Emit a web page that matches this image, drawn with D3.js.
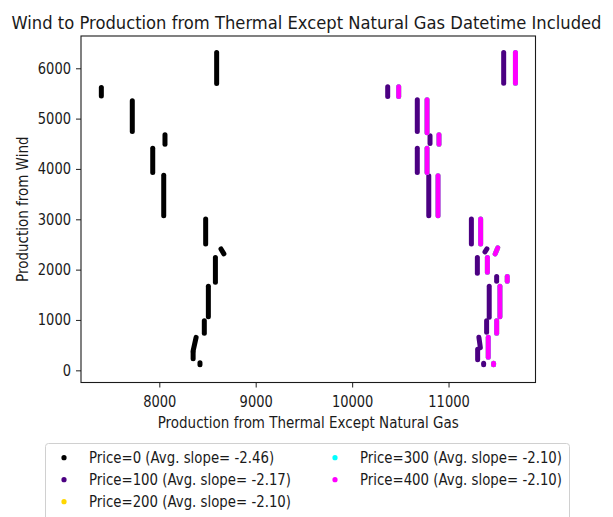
<!DOCTYPE html>
<html>
<head>
<meta charset="utf-8">
<script src="https://cdn.jsdelivr.net/npm/d3@7"></script>
<style>
  html, body { margin: 0; padding: 0; background: #fff; }
  svg { display: block; }
</style>
</head>
<body>
<div id="chart"></div>
<script>
// Wind vs thermal production scatter - each run of points drawn as a short vertical stroke

var seriesNames = ['Price=0', 'Price=100', 'Price=200', 'Price=300', 'Price=400'];
var seriesSlopes = ['-2.46', '-2.17', '-2.10', '-2.10', '-2.10'];
var seriesColors = ['#000000', '#4b0082', '#ffd700', '#00ffff', '#ff00ff'];

var xTicks = [8000, 9000, 10000, 11000];
var yTicks = [0, 1000, 2000, 3000, 4000, 5000, 6000];

// runs of points: [thermal start, wind start, thermal end, wind end]
var price0Runs = [
    [7399, 5617, 7399, 5448],
    [7720, 5354, 7720, 4745],
    [8595, 6313, 8595, 5698],
    [8059, 4680, 8059, 4493],
    [7932, 4413, 7932, 3931],
    [8046, 3877, 8046, 3071],
    [8481, 3004, 8481, 2507],
    [8640, 2412, 8670, 2313],
    [8582, 2243, 8582, 1747],
    [8509, 1668, 8509, 1066],
    [8467, 987, 8467, 735],
    [8382, 655, 8351, 387],
    [8351, 357, 8351, 228],
    [8422, 149, 8422, 109]
];

var price100Runs = [
    [11572, 6313, 11572, 5704],
    [10369, 5632, 10369, 5440],
    [10676, 5374, 10676, 4745],
    [10808, 4660, 10808, 4507],
    [10676, 4413, 10676, 3931],
    [10795, 3865, 10795, 3071],
    [11237, 3004, 11237, 2507],
    [11398, 2412, 11378, 2353],
    [11299, 2243, 11299, 1926],
    [11499, 1866, 11499, 1767],
    [11422, 1668, 11422, 1052],
    [11395, 987, 11395, 754],
    [11315, 655, 11330, 450],
    [11302, 420, 11302, 209],
    [11364, 139, 11364, 109]
];

var price400Runs = [
    [11694, 6313, 11694, 5704],
    [10483, 5632, 10483, 5440],
    [10777, 5374, 10777, 4720],
    [10901, 4680, 10901, 4493],
    [10777, 4413, 10777, 3931],
    [10891, 3865, 10891, 3071],
    [11333, 3004, 11333, 2507],
    [11510, 2432, 11484, 2313],
    [11403, 2243, 11403, 1946],
    [11609, 1866, 11609, 1767],
    [11533, 1668, 11533, 1066],
    [11499, 987, 11499, 735],
    [11412, 655, 11412, 258],
    [11467, 139, 11467, 109]
];

// price 200 and 300 sit exactly under price 400 (same slope), so they are hidden by it
var price200Runs = price400Runs;
var price300Runs = price400Runs;

var allRuns = [price0Runs, price100Runs, price200Runs, price300Runs, price400Runs];

var width = 613, height = 517;
var plot = { left: 81, right: 535.5, top: 36, bottom: 382.5 };
var font = 'DejaVu Sans, sans-serif';

var svg = d3.select('#chart')
    .append('svg')
    .attr('width', width)
    .attr('height', height);

var x = d3.scaleLinear().domain([7188, 11902]).range([plot.left, plot.right]);
var y = d3.scaleLinear().domain([-242, 6641]).range([plot.bottom, plot.top]);

// glyphs in the reference are narrower than DejaVu Sans, so squeeze them a bit
function addText(parent, tx, ty, str, size, squeeze, anchor, rotate) {
    var tr = 'translate(' + tx + ',' + ty + ')' + (rotate ? ' rotate(' + rotate + ')' : '') + ' scale(' + squeeze + ',1)';
    return parent.append('text')
        .attr('transform', tr)
        .attr('text-anchor', anchor || 'start')
        .style('font-family', font)
        .style('font-size', size + 'px')
        .attr('fill', '#1a1a1a')
        .text(str);
}

// runs of points
var runGroup = svg.append('g').attr('class', 'runs');
allRuns.forEach(function(runs, i) {
    runGroup.append('g')
        .selectAll('line')
        .data(runs)
        .enter()
        .append('line')
        .attr('x1', function(d) { return x(d[0]); })
        .attr('y1', function(d) { return y(d[1]); })
        .attr('x2', function(d) { return x(d[2]); })
        .attr('y2', function(d) { return y(d[3]); })
        .attr('stroke', seriesColors[i])
        .attr('stroke-width', 5)
        .attr('stroke-linecap', 'round');
});

// axes
var xAxis = svg.append('g')
    .attr('transform', 'translate(0,' + plot.bottom + ')')
    .call(d3.axisBottom(x).tickValues(xTicks).tickSize(5).tickPadding(8.5).tickFormat(d3.format('d')));
var yAxis = svg.append('g')
    .attr('transform', 'translate(' + plot.left + ',0)')
    .call(d3.axisLeft(y).tickValues(yTicks).tickSize(5).tickPadding(6.5).tickFormat(d3.format('d')));

[xAxis, yAxis].forEach(function(ax) {
    ax.select('.domain').remove();
    ax.selectAll('line').attr('stroke', '#333').attr('stroke-width', 1.1);
    ax.selectAll('text')
        .style('font-family', font)
        .style('font-size', '15px')
        .attr('fill', '#1a1a1a')
        .attr('transform', 'scale(0.87,1)');
});

// frame
svg.append('rect')
    .attr('x', plot.left)
    .attr('y', plot.top)
    .attr('width', plot.right - plot.left)
    .attr('height', plot.bottom - plot.top)
    .attr('fill', 'none')
    .attr('stroke', '#1a1a1a')
    .attr('stroke-width', 1.1);

// titles
addText(svg, 306.5, 28.5, 'Wind to Production from Thermal Except Natural Gas Datetime Included', 18, 0.91, 'middle');
addText(svg, (plot.left + plot.right) / 2, 427.5, 'Production from Thermal Except Natural Gas', 15.5, 0.87, 'middle');
addText(svg, 27.5, (plot.top + plot.bottom) / 2, 'Production from Wind', 15.5, 0.87, 'middle', -90);

// legend, filled column by column
var legend = svg.append('g').attr('class', 'legend');
legend.append('rect')
    .attr('x', 45.5)
    .attr('y', 443.5)
    .attr('width', 524)
    .attr('height', 90)
    .attr('rx', 3)
    .attr('fill', '#fff')
    .attr('stroke', '#d0d0d0')
    .attr('stroke-width', 1);

var colX = [64, 335];
var rowY = [457.7, 479.7, 501.7];
seriesNames.forEach(function(name, i) {
    var cx = colX[Math.floor(i / 3)];
    var cy = rowY[i % 3];
    legend.append('circle')
        .attr('cx', cx)
        .attr('cy', cy)
        .attr('r', 2.6)
        .attr('fill', seriesColors[i]);
    addText(legend, cx + 25, cy + 5.5, name + ' (Avg. slope= ' + seriesSlopes[i] + ')', 15.5, 0.86, 'start');
});
</script>
</body>
</html>
